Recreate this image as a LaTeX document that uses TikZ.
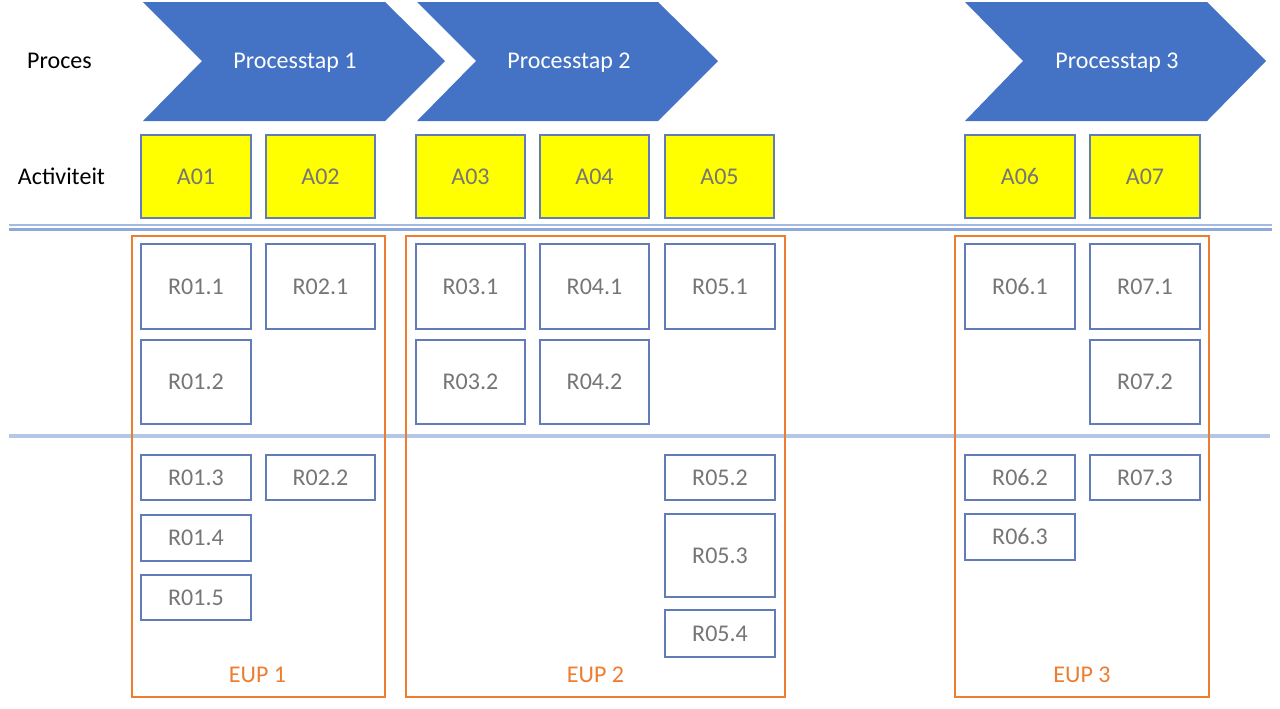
\documentclass[tikz,border=0pt]{standalone}
\usepackage{fontspec}
\setmainfont{Carlito}
\usetikzlibrary{fit}
\definecolor{chev}{RGB}{68,114,196}
\definecolor{bline}{RGB}{98,124,186}
\definecolor{sepline}{RGB}{142,169,219}
\definecolor{midline}{RGB}{180,199,231}
\definecolor{eup}{RGB}{237,125,49}
\definecolor{gtext}{RGB}{118,118,118}
\definecolor{ayellow}{RGB}{255,255,0}
\begin{document}
\begin{tikzpicture}[x=0.75pt,y=-0.75pt,
  every node/.style={font=\fontsize{18}{21.6}\selectfont, inner sep=0pt},
  captext/.style={text height=11.6pt, text depth=0pt},
  boxtext/.style={captext, text=gtext},
  lab/.style={label={[boxtext]center:#1}},
  abox/.style={draw=bline, line width=0.9pt, fill=ayellow, lab=#1},
  rbox/.style={draw=bline, line width=1pt, fill=white, lab=#1},
  eupbox/.style={draw=eup, line width=1.6pt},
  chevron/.style={fill=chev},
  chevtext/.style={captext, text=white},
  eupname/.style={captext, text=eup},
  rowlabel/.style={captext, text=black}]
\useasboundingbox (0,0) rectangle (1280,708);
\fill[white] (0,0) rectangle (1280,708);

% chevrons
\fill[chevron] (143,2) -- (385,2) -- (445,61) -- (385,121) -- (143,121) -- (202,61) -- cycle;
\fill[chevron] (417,2) -- (658,2) -- (718,61) -- (658,121) -- (417,121) -- (476,61) -- cycle;
\fill[chevron] (965,2) -- (1207,2) -- (1266,61) -- (1207,121) -- (965,121) -- (1023,61) -- cycle;
\node[chevtext] (p1) at (295,60.5) {Processtap 1};
\node[chevtext] (p2) at (569,60.5) {Processtap 2};
\node[chevtext] (p3) at (1117,60.5) {Processtap 3};

% row labels
\node[rowlabel] (lproc) at (59.5,60.5) {Proces};
\node[rowlabel] (lact) at (61.5,177) {Activiteit};

% activities
\node[abox=A01, fit={(141,135) (251,218)}] (a01) {};
\node[abox=A02, fit={(266,135) (375,218)}] (a02) {};
\node[abox=A03, fit={(416,135) (525,218)}] (a03) {};
\node[abox=A04, fit={(540,135) (649,218)}] (a04) {};
\node[abox=A05, fit={(665,135) (774,218)}] (a05) {};
\node[abox=A06, fit={(965,135) (1075,218)}] (a06) {};
\node[abox=A07, fit={(1090,135) (1200,218)}] (a07) {};

% separator lines
\draw[sepline!80, line width=1.4pt] (9,225) -- (1272,225);
\draw[sepline, line width=1.6pt] (9,229.5) -- (1272,229.5);
\draw[midline, line width=3pt] (9,436) -- (1270,436);

% EUP boxes
\node[eupbox, fit={(132,236) (385,697)}] (eup1) {};
\node[eupbox, fit={(406,236) (785,697)}] (eup2) {};
\node[eupbox, fit={(955,236) (1209,697)}] (eup3) {};
\node[eupname] (e1) at (257.5,674.5) {EUP 1};
\node[eupname] (e2) at (595.5,674.5) {EUP 2};
\node[eupname] (e3) at (1082,674.5) {EUP 3};

% result boxes - EUP 1
\node[rbox=R01.1, fit={(141,244) (251,329)}] (r011) {};
\node[rbox=R02.1, fit={(266,244) (375,329)}] (r021) {};
\node[rbox=R01.2, fit={(141,340) (251,424)}] (r012) {};
\node[rbox=R01.3, fit={(141,455) (251,500)}] (r013) {};
\node[rbox=R02.2, fit={(266,455) (375,500)}] (r022) {};
\node[rbox=R01.4, fit={(141,515) (251,561)}] (r014) {};
\node[rbox=R01.5, fit={(141,575) (251,620)}] (r015) {};

% EUP 2
\node[rbox=R03.1, fit={(416,244) (525,329)}] (r031) {};
\node[rbox=R04.1, fit={(540,244) (649,329)}] (r041) {};
\node[rbox=R05.1, fit={(665,244) (775,329)}] (r051) {};
\node[rbox=R03.2, fit={(416,340) (525,424)}] (r032) {};
\node[rbox=R04.2, fit={(540,340) (649,424)}] (r042) {};
\node[rbox=R05.2, fit={(665,455) (775,500)}] (r052) {};
\node[rbox=R05.3, fit={(665,514) (775,597)}] (r053) {};
\node[rbox=R05.4, fit={(665,610) (775,657)}] (r054) {};

% EUP 3
\node[rbox=R06.1, fit={(965,244) (1075,329)}] (r061) {};
\node[rbox=R07.1, fit={(1090,244) (1200,329)}] (r071) {};
\node[rbox=R07.2, fit={(1090,340) (1200,424)}] (r072) {};
\node[rbox=R06.2, fit={(965,455) (1075,500)}] (r062) {};
\node[rbox=R07.3, fit={(1090,455) (1200,500)}] (r073) {};
\node[rbox=R06.3, fit={(965,514) (1075,560)}] (r063) {};
\end{tikzpicture}
\end{document}
